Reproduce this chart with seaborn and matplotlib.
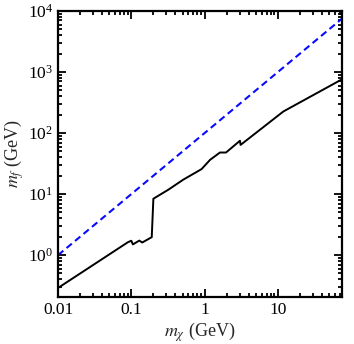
import numpy as np
import pandas as pd
import matplotlib
matplotlib.use("Agg")
import matplotlib.pyplot as plt
import seaborn as sns
from matplotlib.ticker import LogLocator, NullFormatter, FixedLocator, FixedFormatter

sns.set_style("ticks")
plt.rcParams['font.family'] = ['Liberation Serif', 'DejaVu Serif']
plt.rcParams['mathtext.fontset'] = 'stix'

# black solid curve: m_f bound vs m_chi
m_chi = [0.01, 0.09, 0.1, 0.105, 0.1285, 0.141, 0.19, 0.2, 0.32, 0.51,
         0.91, 1.19, 1.62, 1.96, 3.04, 3.1, 11.9, 75]
m_f = [0.29, 1.63, 1.72, 1.5, 1.73, 1.61, 1.97, 8.4, 11.8, 17.2,
       25.7, 36.5, 48, 48, 74.8, 64, 226, 760]

# blue dashed reference line
ref_chi = [0.01, 75]
ref_f = [1, 7500]

x_ticks = [0.01, 0.1, 1, 10]
x_labels = ['0.01', '0.1', '1', '10']

df = pd.DataFrame({'m_chi': m_chi, 'm_f': m_f})
df_ref = pd.DataFrame({'m_chi': ref_chi, 'm_f': ref_f})

fig = plt.figure(figsize=(3.54, 3.44), dpi=100)
ax = fig.add_axes([0.164, 0.137, 0.802, 0.831])

sns.lineplot(data=df_ref, x='m_chi', y='m_f', ax=ax, color='#0a0aff',
             linestyle=(0, (3.3, 2.0)), linewidth=1.5, sort=False, estimator=None)
sns.lineplot(data=df, x='m_chi', y='m_f', ax=ax, color='black',
             linewidth=1.4, sort=False, estimator=None)

ax.set_xscale('log')
ax.set_yscale('log')
ax.set_xlim(0.01, 75)
ax.set_ylim(0.207, 1e4)

ax.xaxis.set_major_locator(FixedLocator(x_ticks))
ax.xaxis.set_major_formatter(FixedFormatter(x_labels))
ax.xaxis.set_minor_locator(LogLocator(base=10, subs=np.arange(2, 10), numticks=20))
ax.xaxis.set_minor_formatter(NullFormatter())
ax.yaxis.set_major_locator(LogLocator(base=10, numticks=10))
ax.yaxis.set_minor_locator(LogLocator(base=10, subs=np.arange(2, 10), numticks=20))
ax.yaxis.set_minor_formatter(NullFormatter())

ax.tick_params(which='both', direction='in', top=True, right=True,
               labelsize=12.5, width=1.3, colors='black')
ax.tick_params(which='major', length=6)
ax.tick_params(which='minor', length=3)
for s in ax.spines.values():
    s.set_linewidth(1.6)
    s.set_color('black')

ax.set_xlabel(r'$m_\chi$ (GeV)', fontsize=13, labelpad=2)
ax.set_ylabel(r'$m_f$ (GeV)', fontsize=13, labelpad=1)

plt.savefig('out.png', dpi=100)
